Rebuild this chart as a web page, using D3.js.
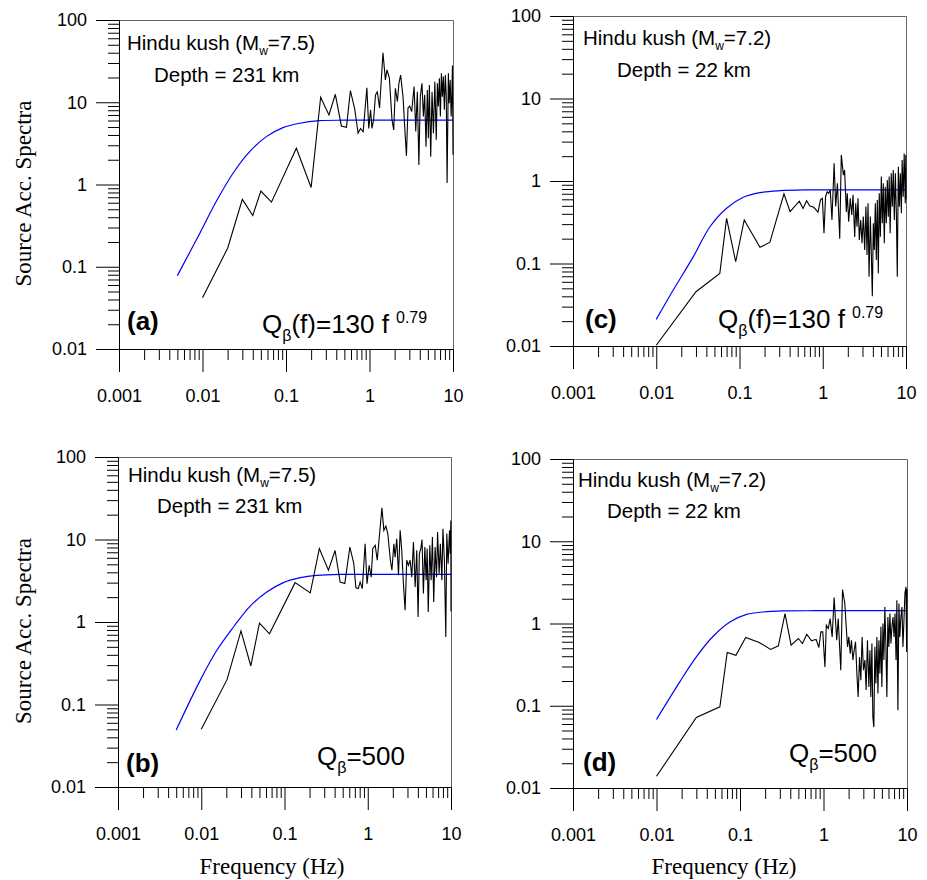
<!DOCTYPE html>
<html>
<head>
<meta charset="utf-8">
<script src="https://cdn.jsdelivr.net/npm/d3@7"></script>
<style>
body{margin:0;background:#fff}
</style>
</head>
<body>
<div class="chart"></div>
<script>
// tick values + labels
const xTicks=[0.001,0.01,0.1,1,10];
const xTickLabels=["0.001","0.01","0.1","1","10"];
const yTicks=[0.01,0.1,1,10,100];
const yTickLabels=["0.01","0.1","1","10","100"];

const obsA=[[0.01,0.042],[0.02,0.168],[0.03,0.66],[0.04,0.42],[0.05,0.83],[0.067,0.61],[0.133,2.76],[0.2,0.92],[0.26,11.5],[0.327,7.0],[0.39,12.5],[0.46,5.15],[0.53,4.97],[0.59,13.8],[0.665,8.3],[0.73,4.2],[0.78,4.8],[0.84,4.4],[0.93,15.0],[0.98,4.8],[1.03,8.1],[1.07,4.8],[1.12,6.1],[1.18,12.3],[1.24,13.4],[1.32,8.5],[1.45,40],[1.55,18.7],[1.62,24.7],[1.73,19.6],[1.86,6.1],[1.95,4.6],[2.04,14.8],[2.16,10.2],[2.25,17.0],[2.36,21.4],[2.52,11.7],[2.64,5.05],[2.77,2.23],[2.89,8.5],[3.03,9.0],[3.2,7.7],[3.42,15.5],[3.58,4.4],[3.74,13.4],[3.9,1.73],[4.06,11.7],[4.25,17.0],[4.42,6.7],[4.58,12.3],[4.75,2.88],[4.93,14.1],[5.07,3.65],[5.21,16.2],[5.41,2.18],[5.61,13.4],[5.83,4.2],[6.06,17.8],[6.3,3.5],[6.5,17.0],[6.68,8.9],[6.87,19.6],[7.06,6.7],[7.26,22.5],[7.46,11.7],[7.67,20.5],[7.88,8.1],[8.1,21.4],[8.3,12.3],[8.5,1.04],[8.8,22.5],[9.0,9.7],[9.25,18.7],[9.5,6.7],[9.7,12.9],[9.85,28],[10,2.3]];
const obsB=[[0.01,0.05],[0.0204,0.2],[0.03,0.78],[0.0394,0.293],[0.05,0.97],[0.066,0.72],[0.134,3.0],[0.204,2.25],[0.262,7.76],[0.337,4.24],[0.405,7.36],[0.466,3.05],[0.53,2.93],[0.61,8.1],[0.68,5.1],[0.72,2.6],[0.77,2.54],[0.81,3.05],[0.86,2.54],[0.93,8.9],[0.98,2.92],[1.04,4.87],[1.1,3.5],[1.15,7.77],[1.23,8.5],[1.3,5.6],[1.37,10.2],[1.48,24.3],[1.56,12.9],[1.65,14.5],[1.74,11.8],[1.87,5.6],[1.95,4.24],[2.06,8.9],[2.13,6.1],[2.23,10.2],[2.34,3.68],[2.45,12.9],[2.56,7.4],[2.68,2.92],[2.81,1.39],[2.94,5.6],[3.08,4.87],[3.23,5.6],[3.38,3.5],[3.54,9.3],[3.71,2.66],[3.88,7.4],[4.02,1.15],[4.17,6.74],[4.34,7.77],[4.49,9.96],[4.66,2.21],[4.85,8.1],[5.03,3.2],[5.17,7.77],[5.33,1.32],[5.56,8.5],[5.77,3.2],[5.98,10.7],[6.2,1.75],[6.44,8.1],[6.7,3.5],[6.9,12.3],[7.2,3.86],[7.45,8.9],[7.77,3.2],[8.0,13.5],[8.33,5.6],[8.66,0.66],[8.9,11.8],[9.23,5.1],[9.6,12.9],[9.8,6.74],[9.95,17],[10,1.35]];
const obsC=[[0.01,0.0102],[0.03,0.0455],[0.058,0.076],[0.07,0.353],[0.09,0.105],[0.114,0.337],[0.176,0.157],[0.232,0.181],[0.342,0.70],[0.405,0.425],[0.523,0.57],[0.58,0.465],[0.64,0.577],[0.70,0.498],[0.78,0.48],[0.877,0.42],[0.94,0.59],[0.99,0.617],[1.035,0.232],[1.08,0.645],[1.13,0.74],[1.18,0.709],[1.23,0.78],[1.29,0.337],[1.37,1.64],[1.43,0.49],[1.5,0.94],[1.6,0.2],[1.67,2.07],[1.77,1.18],[1.83,1.36],[1.92,0.42],[1.97,0.709],[2.05,0.32],[2.14,0.616],[2.23,0.387],[2.31,0.68],[2.42,0.21],[2.49,0.536],[2.58,0.28],[2.65,0.616],[2.75,0.193],[2.86,0.337],[2.96,0.176],[3.07,0.37],[3.19,0.146],[3.3,0.49],[3.4,0.127],[3.5,0.537],[3.6,0.069],[3.73,0.37],[3.83,0.133],[3.94,0.04],[4.05,0.307],[4.16,0.146],[4.28,0.537],[4.4,0.11],[4.52,0.588],[4.65,0.076],[4.77,0.71],[4.92,0.211],[5.05,1.13],[5.19,0.307],[5.33,0.94],[5.49,0.176],[5.63,0.854],[5.8,0.307],[5.96,1.03],[6.13,0.37],[6.28,1.13],[6.45,0.232],[6.65,1.24],[6.84,0.488],[7.03,1.36],[7.24,0.337],[7.45,1.24],[7.66,0.406],[7.86,0.069],[8.09,1.49],[8.32,0.488],[8.55,1.24],[8.8,0.406],[8.99,1.8],[9.26,0.645],[9.51,2.16],[9.8,0.536],[9.95,2.07],[10,0.6]];
const obsD=[[0.01,0.0139],[0.03,0.072],[0.0574,0.097],[0.0703,0.444],[0.0894,0.41],[0.117,0.676],[0.17,0.587],[0.233,0.483],[0.288,0.535],[0.346,1.32],[0.409,0.545],[0.5,0.657],[0.56,0.571],[0.63,0.74],[0.72,0.615],[0.75,0.626],[0.815,0.64],[0.88,0.51],[0.93,0.79],[0.98,0.79],[1.04,0.296],[1.08,0.953],[1.14,0.87],[1.2,1.15],[1.27,0.687],[1.34,2.07],[1.44,0.626],[1.5,1.15],[1.61,0.27],[1.69,2.59],[1.8,1.75],[1.85,1.1],[1.94,0.52],[2.01,0.687],[2.09,0.43],[2.16,0.626],[2.25,0.36],[2.33,0.473],[2.42,0.6],[2.51,0.247],[2.6,0.128],[2.7,0.39],[2.8,0.204],[2.9,0.687],[3.01,0.27],[3.13,0.36],[3.24,0.155],[3.36,0.626],[3.49,0.169],[3.6,0.473],[3.69,0.128],[3.8,0.57],[3.9,0.073],[4.01,0.055],[4.12,0.52],[4.24,0.186],[4.36,0.687],[4.49,0.141],[4.61,0.626],[4.74,0.247],[4.87,0.91],[5.0,0.169],[5.15,1.0],[5.29,0.36],[5.43,1.59],[5.59,0.52],[5.74,0.128],[5.9,1.2],[6.07,0.52],[6.24,1.32],[6.42,0.57],[6.6,0.91],[6.8,1.2],[6.99,0.687],[7.19,1.32],[7.39,0.36],[7.56,1.92],[7.78,0.088],[8.0,1.75],[8.2,0.687],[8.45,1.2],[8.7,1.59],[8.94,0.52],[9.2,1.1],[9.44,2.32],[9.72,2.79],[9.9,0.45],[10,2.6]];

// fitted (blue) spectra
const fitA=[[0.005,0.078],[0.0093,0.256],[0.0146,0.62],[0.0232,1.37],[0.0367,2.51],[0.0582,3.82],[0.0921,4.92],[0.146,5.56],[0.25,5.97],[0.5,6.05],[1,6.05],[3,6.05],[10,6.05]];
const fitB=[[0.005,0.049],[0.0097,0.196],[0.0154,0.454],[0.0244,0.87],[0.0387,1.56],[0.0613,2.31],[0.097,3.0],[0.154,3.45],[0.245,3.68],[0.5,3.78],[1,3.78],[3,3.78],[10,3.78]];
const fitC=[[0.01,0.021],[0.016,0.0477],[0.0279,0.121],[0.0442,0.279],[0.07,0.467],[0.111,0.634],[0.176,0.722],[0.306,0.763],[0.6,0.78],[1.5,0.78],[4,0.78],[10,0.78]];
const fitD=[[0.01,0.068],[0.019,0.195],[0.03,0.393],[0.0477,0.70],[0.0757,1.045],[0.12,1.29],[0.19,1.38],[0.33,1.42],[0.8,1.43],[3,1.43],[10,1.43]];

const sans="'Liberation Sans', Arial, sans-serif";
const serif="'Liberation Serif', 'Times New Roman', serif";

const panels=[
  {tag:"(a)",obs:obsA,fit:fitA,l:119,r:453,t:20,b:349,mw:"7.5",depth:"231",qf:true,
   hx:127,hy:50,dx:154,dy:82,tx:127,ty:330,qx:262,qy:333,yTitle:true},
  {tag:"(c)",obs:obsC,fit:fitC,l:573,r:906,t:16,b:346,mw:"7.2",depth:"22",qf:true,
   hx:583,hy:45,dx:617,dy:77,tx:585,ty:328,qx:718,qy:328},
  {tag:"(b)",obs:obsB,fit:fitB,l:118,r:451,t:457,b:787,mw:"7.5",depth:"231",qf:false,
   hx:128,hy:482,dx:157,dy:513,tx:126,ty:772,qx:317,qy:765,yTitle:true,xTitle:272},
  {tag:"(d)",obs:obsD,fit:fitD,l:573,r:907,t:459,b:788,mw:"7.2",depth:"22",qf:false,
   hx:578,hy:487,dx:607,dy:518,tx:583,ty:771,qx:789,qy:762,xTitle:724}
];

const svg=d3.select(".chart").append("svg")
  .attr("width",927)
  .attr("height",880);

const isMajor=v=>Math.abs(Math.log10(v)-Math.round(Math.log10(v)))<1e-6;

panels.forEach(p=>{
  let x=d3.scaleLog().domain([0.001,10]).range([p.l,p.r]);
  let y=d3.scaleLog().domain([0.01,100]).range([p.b,p.t]);
  let g=svg.append("g");

  // top + right border of the frame
  g.append("path")
    .attr("d",`M${p.l},${p.t+0.5}H${p.r+0.5}V${p.b}`)
    .attr("fill","none")
    .attr("stroke","#666")
    .attr("stroke-width",1);

  let minorX=x.ticks().filter(v=>!isMajor(v));
  let minorY=y.ticks().filter(v=>!isMajor(v));

  // minor ticks
  g.append("g")
    .attr("transform","translate(0,"+p.b+")")
    .call(d3.axisBottom(x).tickValues(minorX).tickSize(11).tickFormat(""))
    .call(s=>s.select(".domain").remove());
  g.append("g")
    .attr("transform","translate("+p.l+",0)")
    .call(d3.axisLeft(y).tickValues(minorY).tickSize(11).tickFormat(""))
    .call(s=>s.select(".domain").remove());

  // major ticks + labels
  let xa=g.append("g")
    .attr("transform","translate(0,"+p.b+")")
    .call(d3.axisBottom(x).tickValues(xTicks).tickSize(23).tickSizeOuter(0).tickPadding(17)
      .tickFormat((d,i)=>xTickLabels[i]));
  let ya=g.append("g")
    .attr("transform","translate("+p.l+",0)")
    .call(d3.axisLeft(y).tickValues(yTicks).tickSize(23).tickSizeOuter(0).tickPadding(9)
      .tickFormat((d,i)=>yTickLabels[i]));
  [xa,ya].forEach(a=>{
    a.selectAll("text").attr("font-family",sans).attr("font-size",18).attr("fill","#000");
    a.selectAll("line,path").attr("stroke","#000");
  });

  // fitted curve
  g.append("path")
    .datum(p.fit)
    .attr("fill","none")
    .attr("stroke","#0000ff")
    .attr("stroke-width",1.2)
    .attr("d",d3.line().x(d=>x(d[0])).y(d=>y(d[1])).curve(d3.curveCatmullRom.alpha(0.5)));

  // observed spectrum
  g.append("path")
    .datum(p.obs)
    .attr("fill","none")
    .attr("stroke","#000")
    .attr("stroke-width",1.1)
    .attr("stroke-linejoin","miter")
    .attr("d",d3.line().x(d=>x(d[0])).y(d=>y(d[1])));

  // annotations
  let t1=g.append("text").attr("x",p.hx).attr("y",p.hy)
    .attr("font-family",sans).attr("font-size",20.5);
  t1.append("tspan").text("Hindu kush (M");
  t1.append("tspan").attr("font-size",12).attr("dy",5).text("w");
  t1.append("tspan").attr("dy",-5).text("="+p.mw+")");

  g.append("text").attr("x",p.dx).attr("y",p.dy)
    .attr("font-family",sans).attr("font-size",20.5)
    .text("Depth = "+p.depth+" km");

  g.append("text").attr("x",p.tx).attr("y",p.ty)
    .attr("font-family",sans).attr("font-size",26).attr("font-weight","bold")
    .text(p.tag);

  let q=g.append("text").attr("x",p.qx).attr("y",p.qy)
    .attr("font-family",sans).attr("font-size",26);
  q.append("tspan").text("Q");
  q.append("tspan").attr("font-size",16).attr("dy",8).text("β");
  if(p.qf){
    q.append("tspan").attr("dy",-8).text("(f)=130 f");
    q.append("tspan").attr("font-size",16).attr("dx",7).attr("dy",-10).text("0.79");
  }else{
    q.append("tspan").attr("dy",-8).text("=500");
  }

  if(p.yTitle){
    g.append("text")
      .attr("transform","translate(31,"+((p.t+p.b)/2+9)+") rotate(-90)")
      .attr("text-anchor","middle")
      .attr("font-family",serif)
      .attr("font-size",23)
      .text("Source Acc. Spectra");
  }
  if(p.xTitle){
    g.append("text")
      .attr("x",p.xTitle)
      .attr("y",874)
      .attr("text-anchor","middle")
      .attr("font-family",serif)
      .attr("font-size",23)
      .text("Frequency (Hz)");
  }
});
</script>
</body>
</html>
